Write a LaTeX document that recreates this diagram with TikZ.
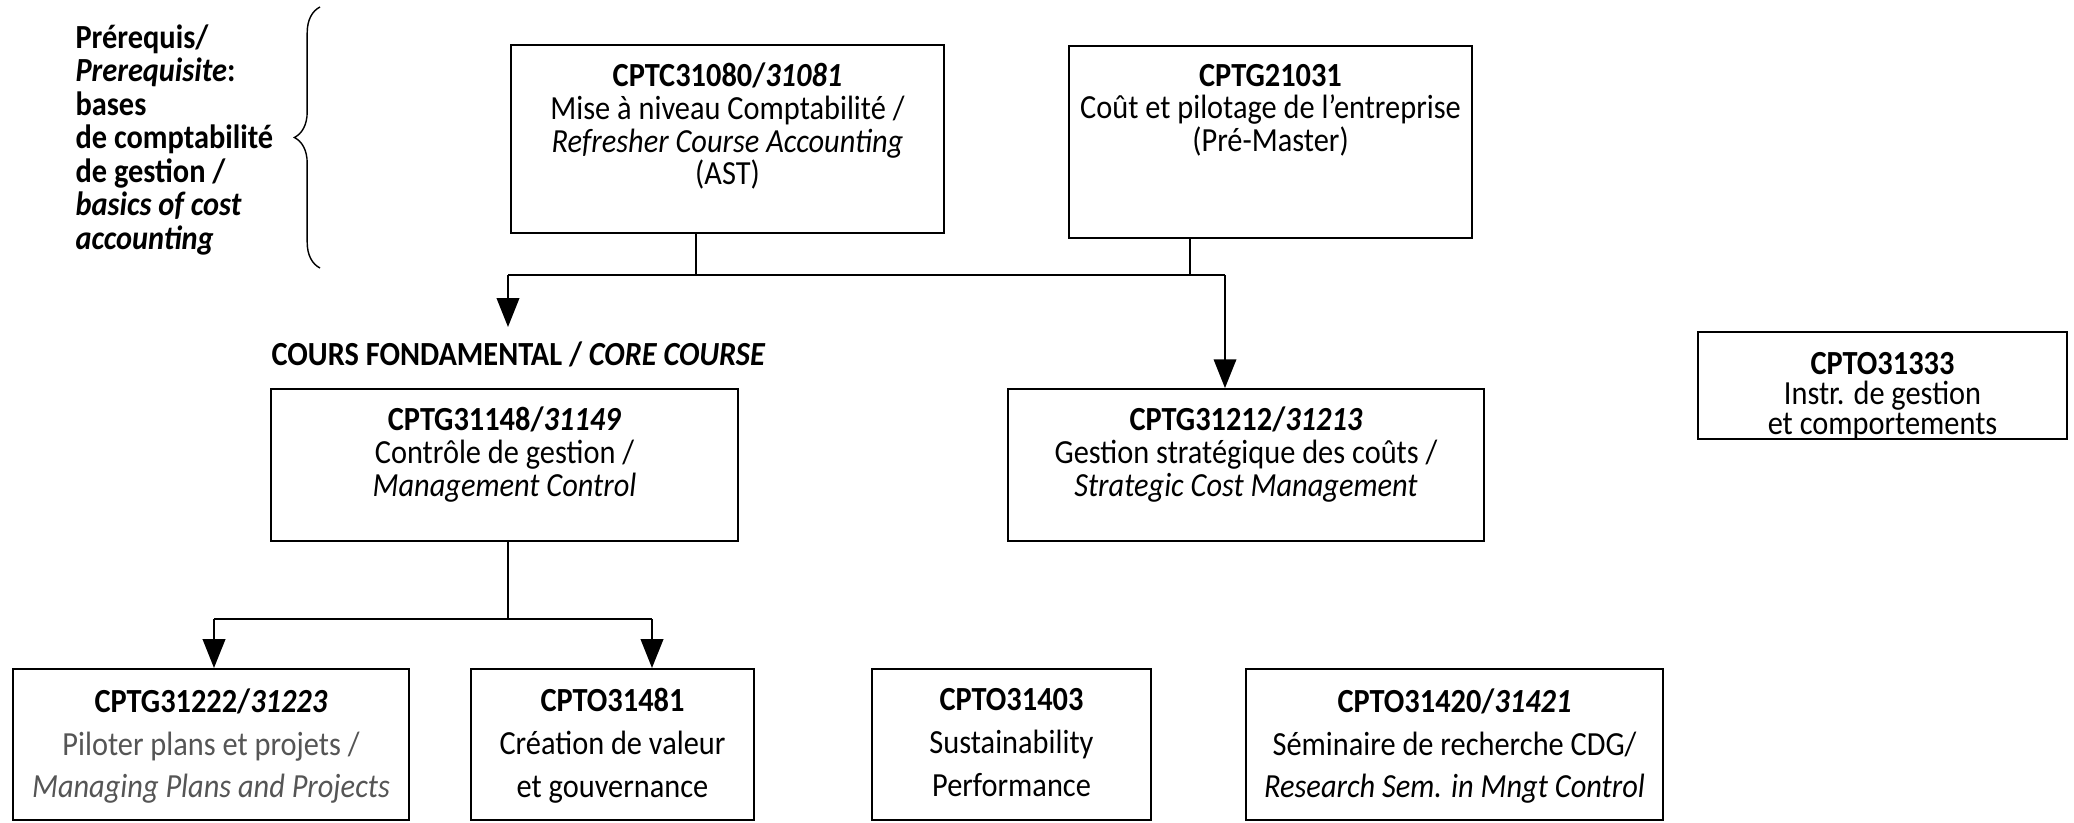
\documentclass[tikz,border=0pt]{standalone}
\usepackage{fontspec}
\setmainfont{Carlito}[FakeStretch=0.9]
\usepackage{xcolor}
\definecolor{softgray}{RGB}{85,85,85}
\usepackage{tikz}
\usetikzlibrary{positioning, arrows.meta, decorations.pathreplacing}

\begin{document}
\begin{tikzpicture}[x=0.0125cm, y=-0.0125cm, % one unit = one pixel of the layout
    course/.style={draw, line width=0.6pt, inner sep=0pt},
    coursetext/.style={align=center, inner sep=0pt, font=\fontsize{12}{11.6}\selectfont},
    lowtext/.style={align=center, inner sep=0pt, font=\fontsize{12}{15.2}\selectfont},
    link/.style={line width=0.8pt},
    arrowlink/.style={link, -{Triangle[length=0.36cm, width=0.28cm]}}]
                \useasboundingbox (0,0) rectangle (2074,822);

                % Prerequisites with the brace
                \node[anchor=north west, align=left, inner sep=0pt, font=\fontsize{12}{11.9}\selectfont\bfseries] (prereq) at (75,24)
                    {Prérequis/\\ \textit{Prerequisite}:\\ bases\\ de comptabilité\\ de gestion /\\ \textit{basics of cost}\\ \textit{accounting}};
                \draw[line width=0.5pt, decorate, decoration={brace, amplitude=0.32cm}] (320,268) -- (320,7);

                % Upper boxes
                \node[course, minimum width=5.41cm, minimum height=2.35cm] (cptc) at (727.5,139) {};
                \node[coursetext, below=0.23cm of cptc.north] (cptc-txt)
                    {\textbf{CPTC31080/\textit{31081}}\\ Mise à niveau Comptabilité /\\ \textit{Refresher Course Accounting}\\ (AST)};
                \node[course, minimum width=5.04cm, minimum height=2.40cm] (cptg21031) at (1270.5,142) {};
                \node[coursetext, below=0.23cm of cptg21031.north] (cptg21031-txt)
                    {\textbf{CPTG21031}\\ Coût et pilotage de l’entreprise\\ (Pré-Master)};

                % Core course
                \node[anchor=west, inner sep=0pt, font=\fontsize{12}{11}\selectfont\bfseries] (core) at (271,354)
                    {COURS FONDAMENTAL / \textit{CORE COURSE}};
                \node[course, minimum width=5.84cm, minimum height=1.90cm] (cptg31148) at (504.5,465) {};
                \node[coursetext, below=0.23cm of cptg31148.north] (cptg31148-txt)
                    {\textbf{CPTG31148/\textit{31149}}\\ Contrôle de gestion /\\ \textit{Management Control}};
                \node[course, minimum width=5.95cm, minimum height=1.90cm] (cptg31212) at (1246,465) {};
                \node[coursetext, below=0.23cm of cptg31212.north] (cptg31212-txt)
                    {\textbf{CPTG31212/\textit{31213}}\\ Gestion stratégique des coûts /\\ \textit{Strategic Cost Management}};
                \node[course, minimum width=4.61cm, minimum height=1.34cm] (cpto31333) at (1882.5,385.5) {};
                \node[coursetext, font=\fontsize{12}{10.6}\selectfont, below=0.26cm of cpto31333.north] (cpto31333-txt)
                    {\textbf{CPTO31333}\\ Instr. de gestion\\ et comportements};

                % Lower boxes
                \node[course, minimum width=4.95cm, minimum height=1.89cm] (cptg31222) at (211,744.5) {};
                \node[lowtext, below=0.25cm of cptg31222.north] (cptg31222-txt)
                    {\textbf{CPTG31222/\textit{31223}}\\ {\color{softgray}Piloter plans et projets /}\\ {\color{softgray}\textit{Managing Plans and Projects}}};
                \node[course, minimum width=3.54cm, minimum height=1.89cm] (cpto31481) at (612.5,744.5) {};
                \node[lowtext, below=0.25cm of cpto31481.north] (cpto31481-txt)
                    {\textbf{CPTO31481}\\ Création de valeur\\ et gouvernance};
                \node[course, minimum width=3.49cm, minimum height=1.89cm] (cpto31403) at (1011.5,744.5) {};
                \node[lowtext, below=0.25cm of cpto31403.north] (cpto31403-txt)
                    {\textbf{CPTO31403}\\ Sustainability\\ Performance};
                \node[course, minimum width=5.21cm, minimum height=1.89cm] (cpto31420) at (1454.5,744.5) {};
                \node[lowtext, below=0.25cm of cpto31420.north] (cpto31420-txt)
                    {\textbf{CPTO31420/\textit{31421}}\\ Séminaire de recherche CDG/\\ \textit{Research Sem. in Mngt Control}};

                % Links from the prerequisites
                \coordinate (dropA) at (696,275);
                \coordinate (dropB) at (1190,275);
                \coordinate (busL) at (508,275);
                \coordinate (busR) at (1225,275);
                \coordinate (coreTip) at (508,327);
                \draw[link] (cptc.south -| dropA) -- (dropA);
                \draw[link] (cptg21031.south -| dropB) -- (dropB);
                \draw[link] (busL) -- (busR);
                \draw[arrowlink] (busL) -- (coreTip);
                \draw[arrowlink] (busR) -- (busR |- cptg31212.north);

                % Links from the core course
                \coordinate (fork) at (508,619);
                \coordinate (forkL) at (214,619);
                \coordinate (forkR) at (652,619);
                \draw[link] (cptg31148.south -| fork) -- (fork);
                \draw[link] (forkL) -- (forkR);
                \draw[arrowlink] (forkL) -- (forkL |- cptg31222.north);
                \draw[arrowlink] (forkR) -- (forkR |- cpto31481.north);
        \end{tikzpicture}
\end{document}
